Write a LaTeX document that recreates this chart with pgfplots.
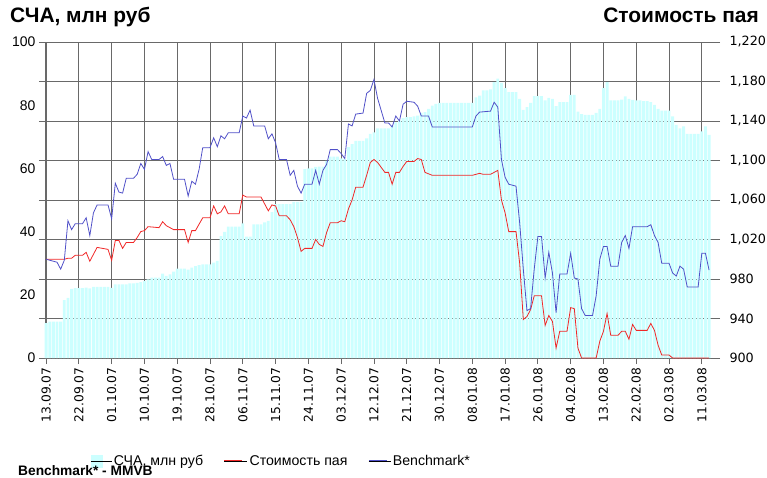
\documentclass[border=0pt]{standalone}
\usepackage{fontspec}
\setmainfont{Liberation Sans}
\newfontfamily\dvsans{DejaVu Sans}
\usepackage{pgfplots}
\usepackage{pgfplotstable}
\pgfplotsset{compat=1.18}
\definecolor{barcyan}{RGB}{204,255,255}
\definecolor{navred}{RGB}{240,40,40}
\definecolor{bmblue}{RGB}{80,80,200}
\definecolor{gridgray}{RGB}{105,105,105}

\pgfplotstableread{
d v
0 11
1 11.5
2 11.5
3 11.5
4 11.5
5 18.3
6 19
7 21.9
8 22.1
9 22.1
10 22.1
11 22.3
12 22
13 22.5
14 22.5
15 22.5
16 22.5
17 22.5
18 22.2
19 23.3
20 23.3
21 23.3
22 23.3
23 23.6
24 23.6
25 23.8
26 24
27 24.3
28 24.9
29 25.4
30 25.4
31 25.4
32 26.7
33 26
34 26.5
35 27.3
36 28.3
37 28.3
38 28.3
39 28
40 28.6
41 29.1
42 29.4
43 29.6
44 29.6
45 29.6
46 30.2
47 30.7
48 38.6
49 39.9
50 41.6
51 41.6
52 41.6
53 41.6
54 42.6
55 38.4
56 38.4
57 42.3
58 42.3
59 42.3
60 42.9
61 43.4
62 46.2
63 48.7
64 48.7
65 48.7
66 48.7
67 48.7
68 49.4
69 49.4
70 49.4
71 59.8
72 60
73 60
74 60.5
75 60.6
76 60.6
77 62.4
78 63.7
79 63.7
80 63.7
81 63.2
82 63
83 66.7
84 67.7
85 68.7
86 68.7
87 68.7
88 69.5
89 70.9
90 71.4
91 72.7
92 72.7
93 72.7
94 72.7
95 73.5
96 74.6
97 75.1
98 75.9
99 76.2
100 76.2
101 76.5
102 76.7
103 77.6
104 77.8
105 78.8
106 79.9
107 80.4
108 80.7
109 80.7
110 80.7
111 80.7
112 80.7
113 80.7
114 80.7
115 80.7
116 80.7
117 80.7
118 82.5
119 83
120 84.7
121 84.7
122 85
123 87.3
124 88.4
125 87.1
126 85.4
127 84.1
128 84.1
129 84.1
130 82
131 78.5
132 79.4
133 80.7
134 82.9
135 82.9
136 82.9
137 81.5
138 82.3
139 82
140 79.7
141 81
142 81
143 81
144 83.3
145 83.3
146 78
147 77.2
148 76.9
149 76.9
150 76.9
151 77.6
152 78.8
153 85.4
154 87.3
155 81.5
156 81.5
157 81.5
158 81.8
159 82.8
160 82
161 81.7
162 81.5
163 81.5
164 81.3
165 81.3
166 81
167 80.1
168 78.8
169 78.3
170 78.3
171 78.3
172 76.5
173 73.8
174 72.7
175 73.3
176 70.9
177 70.9
178 70.9
179 70.9
180 71.7
181 73.3
182 70.6
}\scha

\pgfplotstableread{
d v
0 1000
5 1000
6 1001
7 1001
8 1004
10 1004
11 1007
12 998
13 1005
14 1012
17 1010
18 999
19 1019
20 1019
21 1011
22 1017
24 1017
25 1022
26 1028
27 1029
28 1033
31 1032
32 1038
33 1034
35 1030
38 1030
39 1017
40 1029
41 1029
43 1042
45 1042
46 1054
47 1046
48 1048
49 1054
50 1046
53 1046
54 1065
55 1063
59 1063
61 1049
62 1055
63 1054
64 1044
66 1044
67 1040
68 1033
69 1022
70 1008
71 1011
73 1011
74 1020
75 1015
76 1013
77 1027
78 1037
80 1037
81 1039
82 1038
83 1051
84 1060
85 1073
87 1073
88 1085
89 1098
90 1101
91 1098
93 1088
94 1088
95 1076
96 1088
97 1088
98 1094
99 1099
101 1099
102 1102
103 1101
104 1088
106 1085
117 1085
118 1086
119 1087
120 1086
122 1086
124 1090
125 1060
126 1047
127 1028
129 1028
130 996
131 939
132 942
133 949
134 963
136 963
137 933
138 943
139 937
140 910
141 927
143 927
144 951
145 950
146 910
147 900
151 900
152 917
153 927
154 945
155 923
157 923
158 927
159 927
160 919
161 934
162 928
165 928
166 935
167 928
168 913
169 903
171 903
172 900
182 900
}\pai

\pgfplotstableread{
d v
0 1000
3 997
4 990
5 999
6 1039
7 1030
8 1036
10 1036
11 1042
12 1024
13 1047
14 1055
17 1055
18 1041
19 1077
20 1068
21 1067
22 1082
24 1082
25 1086
26 1097
27 1091
28 1109
29 1101
31 1101
32 1104
33 1095
34 1097
35 1081
38 1081
39 1064
40 1079
41 1076
42 1091
43 1113
45 1113
46 1123
47 1114
48 1125
49 1122
50 1128
53 1128
54 1145
55 1143
56 1151
57 1135
60 1135
61 1122
62 1127
63 1118
64 1101
66 1101
67 1085
68 1090
69 1074
70 1067
71 1076
73 1076
74 1090
75 1076
76 1090
77 1096
78 1111
80 1111
81 1107
82 1102
83 1137
84 1135
85 1147
87 1148
88 1168
89 1171
90 1182
91 1163
93 1138
94 1138
95 1134
96 1145
97 1140
98 1157
99 1160
101 1159
102 1155
103 1145
105 1145
106 1134
117 1134
118 1145
119 1149
122 1150
123 1159
124 1154
125 1101
126 1083
127 1076
129 1074
130 1037
131 990
132 948
133 950
134 990
135 1023
136 1023
137 981
138 1007
139 986
140 946
141 985
143 985
144 1006
145 981
146 980
147 950
148 943
150 943
151 963
152 1000
153 1013
154 1013
155 993
157 993
158 1017
159 1024
160 1011
161 1033
165 1033
166 1035
167 1024
168 1017
169 996
171 996
172 986
173 983
174 993
175 990
176 972
179 972
180 1006
181 1006
182 989
}\bench

\begin{document}
\begin{tikzpicture}
\useasboundingbox (-45bp,-120bp) rectangle (722bp,358bp);
\begin{axis}[
  width=667bp, height=316bp, scale only axis,
  at={(0,0)}, anchor=south west,
  xmin=-0.3, xmax=182.8, ymin=0, ymax=100,
  axis x line*=bottom, axis y line*=left,
  axis line style={gridgray, line width=0.8bp},
  xtick={0,9,...,180},
  xticklabels={13.09.07,22.09.07,01.10.07,10.10.07,19.10.07,28.10.07,06.11.07,15.11.07,24.11.07,03.12.07,12.12.07,21.12.07,30.12.07,08.01.08,17.01.08,26.01.08,04.02.08,13.02.08,22.02.08,02.03.08,11.03.08},
  xticklabel style={rotate=90, anchor=east, font=\dvsans\fontsize{12.3}{14}\selectfont},
  ytick={0,12.5,...,100},
  yticklabels={},
  extra y ticks={0,20,40,60,80,100},
  extra y tick labels={0,20,40,60,80,100},
  extra y tick style={grid=none, major tick length=0pt},
  yticklabel style={font=\fontsize{14}{16}\selectfont, xshift=-6bp},
  tick align=outside, major tick length=6bp,
  tick style={gridgray, line width=0.8bp},
  xmajorgrids, ymajorgrids,
  grid style={gridgray, line width=0.8bp},
  /pgf/number format/assume math mode=true,
  clip=false,
]
\addplot[ybar, bar width=0.78, fill=barcyan, draw=none] table[x=d, y=v] {\scha};
\end{axis}
\begin{axis}[
  width=667bp, height=316bp, scale only axis,
  at={(0,0)}, anchor=south west,
  xmin=-0.3, xmax=182.8, ymin=900, ymax=1220,
  axis x line=none, axis y line*=right,
  axis line style={draw=none},
  ytick={900,940,...,1220},
  yticklabel style={font=\dvsans\fontsize{12.8}{14}\selectfont, xshift=6bp},
  tick align=outside, major tick length=8bp,
  tick style={gridgray, line width=0.8bp},
  /pgf/number format/assume math mode=true,
  /pgf/number format/1000 sep={,},
  legend columns=3,
  legend style={draw=none, fill=none, inner sep=0pt, at={(axis description cs:0.068,-0.326)}, anchor=west,
    font=\fontsize{14.2}{16}\selectfont,
    /tikz/every even column/.append style={column sep=19bp}},
]
\addlegendimage{legend image code/.code={\fill[barcyan] (0bp,-6bp) rectangle (11bp,6bp); \path (0bp,0bp) -- (21bp,0bp);}}
\addlegendentry{СЧА, млн руб}
\addlegendimage{legend image code/.code={\fill[navred] (0bp,-0.5bp) rectangle (17bp,0.5bp); \path (0bp,0bp) -- (23bp,0bp);}}
\addlegendentry{Стоимость пая}
\addlegendimage{legend image code/.code={\fill[bmblue] (0bp,-0.5bp) rectangle (17bp,0.5bp); \path (0bp,0bp) -- (22bp,0bp);}}
\addlegendentry{Benchmark*}
\addplot[navred, line width=0.8bp, forget plot] table[x=d, y=v] {\pai};
\addplot[bmblue, line width=0.8bp, forget plot] table[x=d, y=v] {\bench};
\end{axis}
\node[anchor=base west, font=\bfseries\fontsize{21}{23}\selectfont, inner sep=0] at (-35bp,335bp) {СЧА, млн руб};
\node[anchor=base east, font=\bfseries\fontsize{21}{23}\selectfont, inner sep=0] at (714bp,335bp) {Стоимость пая};
\node[anchor=base west, font=\bfseries\fontsize{13.8}{15}\selectfont, inner sep=0] at (-27bp,-117bp) {Benchmark* - MMVB};
\end{tikzpicture}
\end{document}
